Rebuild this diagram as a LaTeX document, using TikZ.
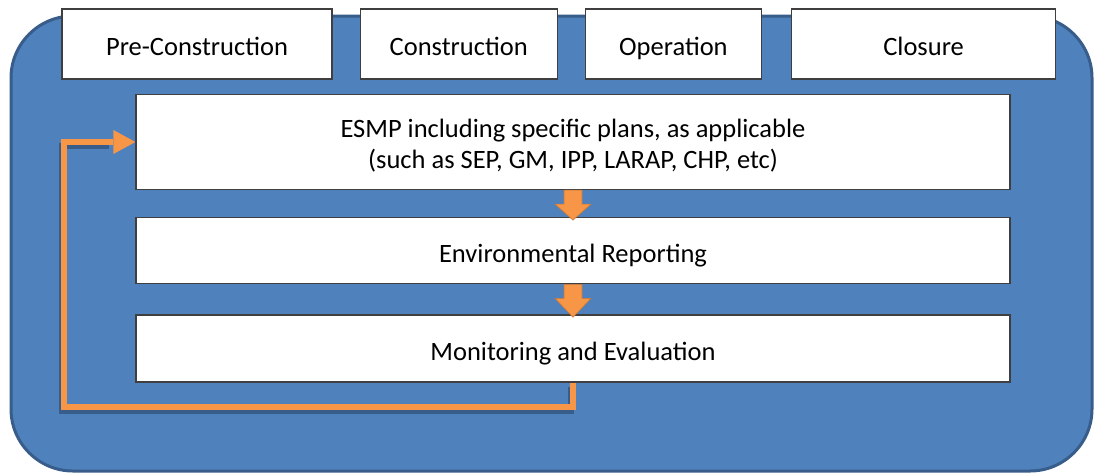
\documentclass[tikz,border=0pt]{standalone}
\usepackage{fontspec}
\setmainfont{Carlito}
\usetikzlibrary{arrows.meta,positioning,calc}
\definecolor{panelblue}{HTML}{4F81BD}
\definecolor{paneledge}{HTML}{385D8A}
\definecolor{loopor}{HTML}{F79646}
\definecolor{boxedge}{HTML}{3F3F3F}
\tikzset{
  panel/.style={draw=paneledge, line width=3pt, fill=panelblue, rounded corners=62pt},
  phasebox/.style={draw=boxedge, line width=1.2pt, fill=white, inner sep=0pt,
                   minimum height=70pt, text height=22pt, text depth=0pt,
                   font=\fontsize{26.5}{31}\selectfont},
  stagebox/.style={draw=boxedge, line width=1.2pt, fill=white, inner sep=0pt,
                   minimum width=874pt, text height=24pt, text depth=0pt,
                   font=\fontsize{26.5}{31}\selectfont},
  looparr/.style={-{Triangle[length=22pt, width=24pt, line width=0pt]}, line width=6pt, color=loopor},
  loopshadow/.style={line width=6pt, color=paneledge, transform canvas={shift={(-2pt,-4pt)}}},
  downarr/.style={fill=loopor, draw=loopor!80!black, line width=0.6pt}}

\begin{document}
\begin{tikzpicture}[x=1pt, y=-1pt]
  \useasboundingbox (0,0) rectangle (1097,475);
  \draw[panel] (11,16) rectangle (1092,471);

  % phases along the top
  \node[phasebox, minimum width=270pt] (pre) at (197,44) {Pre-Construction};
  \node[phasebox, minimum width=197pt, right=27pt of pre] (con) {Construction};
  \node[phasebox, minimum width=176pt, right=27pt of con] (op) {Operation};
  \node[phasebox, minimum width=264pt, right=29pt of op] (clo) {Closure};

  % stages
  \node[stagebox, minimum height=95pt, align=center, text height=, text depth=] (esmp) at (573,142)
    {\rule{0pt}{26pt}ESMP including specific plans, as applicable\\(such as SEP, GM, IPP, LARAP, CHP, etc)};
  \node[stagebox, minimum height=66pt, below=27pt of esmp] (env) {Environmental Reporting};
  \node[stagebox, minimum height=67pt, below=30pt of env] (mon) {Monitoring and Evaluation};

  % block arrows between stages
  \foreach \a/\b in {esmp/env, env/mon} {
    \draw[downarr] ($(\a.south)+(-9,0)$) -- ($(\a.south)+(-9,14)$)
      -- ($(\a.south)+(-18,14)$) -- ([yshift=-3pt]\b.north)
      -- ($(\a.south)+(18,14)$) -- ($(\a.south)+(9,14)$)
      -- ($(\a.south)+(9,0)$) -- cycle;
  }

  % feedback loop
  \draw[loopshadow] (mon.south) -- ++(0,24) -| ([xshift=-71pt]esmp.west) -- ([xshift=-24pt]esmp.west);
  \draw[looparr] (mon.south) -- ++(0,24) -| ([xshift=-71pt]esmp.west) -- (esmp.west);
\end{tikzpicture}
\end{document}
